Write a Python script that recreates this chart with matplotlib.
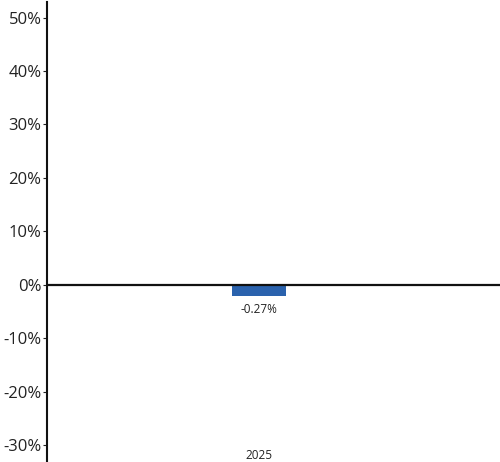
import numpy as np
import matplotlib.pyplot as plt
import matplotlib.transforms as mtransforms

# chart data
years = ["2025"]
values = [-0.27]
labels = ["-0.27%"]
y_ticks = [-30, -20, -10, 0, 10, 20, 30, 40, 50]

# the source draws tiny bars with a minimum visible height
min_bar = 2.1
bar_color = "#2a62ad"

plt.rcParams['font.family'] = ['Open Sans', 'DejaVu Sans']

fig = plt.figure(figsize=(5, 4.62), dpi=100)
ax = fig.add_axes([0.094, 0.0, 0.906, 460 / 462])

x = np.arange(len(years))
heights = [np.sign(v) * max(abs(v), min_bar) for v in values]
ax.bar(x, heights, width=0.119, color=bar_color, zorder=2)

# zero line
ax.axhline(0, color="#111111", linewidth=1.6, zorder=3)

for xi, h, lab in zip(x, heights, labels):
    ax.text(xi, h - 1.3, lab, ha="center", va="top", fontsize=8.5, color="#222222")

trans = mtransforms.blended_transform_factory(ax.transData, ax.transAxes)
for xi, yr in zip(x, years):
    ax.text(xi, 0.0, yr, ha="center", va="bottom", fontsize=8.5, color="#222222", transform=trans)

ax.set_xlim(-0.468, 0.532)
ax.set_ylim(-33.1, 52.9)
ax.set_yticks(y_ticks)
ax.set_yticklabels([f"{t}%" for t in y_ticks], fontsize=12, color="#222222")
ax.tick_params(axis="y", length=3, width=0.8, pad=1, color="#222222")
ax.set_xticks([])

for s in ["top", "right", "bottom"]:
    ax.spines[s].set_visible(False)
ax.spines["left"].set_linewidth(1.5)
ax.spines["left"].set_color("#111111")

fig.savefig("out.png", dpi=100)
